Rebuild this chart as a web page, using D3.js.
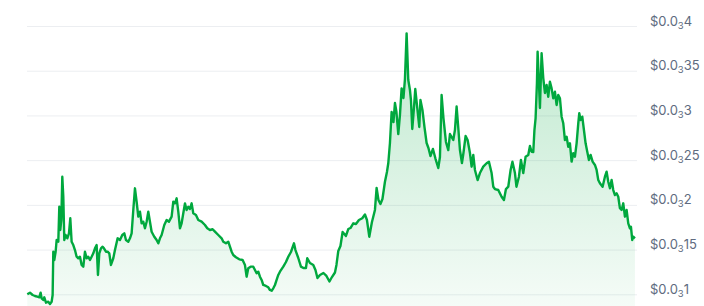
<html>
<head>
<meta charset="utf-8">
<script src="https://d3js.org/d3.v7.min.js"></script>
<style>
  body { margin: 0; background: #fff; }
  .grid line { stroke: #eceef1; }
  .grid .domain { stroke: none; }
  .yaxis .domain { stroke: none; }
  .yaxis text { fill: #606b80; font-family: Inter, "Noto Sans", sans-serif; font-size: 13px; }
</style>
</head>
<body>
<svg id="chart" width="704" height="306"></svg>
<script>
// days since start of the period
const days = [0,1.6,3.2,4.6,6.0,7.2,8.0,8.6,9.6,10.2,11.2,12.6,13.6,14.6,15.2,15.6,16.2,17.0,17.6,18.6,
  19.2,19.8,20.4,21.0,21.6,22.2,23.0,24.0,25.0,25.8,26.6,27.6,28.6,29.6,30.6,31.6,32.6,33.6,34.6,35.6,
  36.6,37.6,38.6,39.6,40.6,41.6,42.4,43.2,44.2,45.2,46.0,47.2,48.2,49.2,50.2,51.6,52.6,54.2,55.6,57.0,
  58.2,59.2,60.6,61.6,62.6,63.6,64.6,65.6,66.6,67.6,68.6,69.6,70.6,71.6,72.6,73.6,74.6,76.2,77.6,78.6,
  79.6,80.6,82.2,83.6,85.0,86.6,87.6,88.6,89.6,90.6,91.6,92.6,93.6,94.6,95.6,96.6,97.6,98.6,99.6,101.2,
  102.6,104.6,106.6,108.0,109.6,111.2,112.6,114.6,116.6,117.6,119.2,120.6,121.6,122.6,123.6,125.2,127.2,129.2,130.6,131.6,
  132.6,134.0,135.6,136.6,137.6,138.6,139.6,140.6,141.6,143.2,144.6,145.6,146.6,147.6,148.6,149.6,150.6,151.6,153.6,155.2,
  156.6,158.2,160.0,160.9,162.6,164.2,165.7,167.2,168.0,169.6,171.6,172.9,174.1,175.6,177.7,179.5,181.3,182.8,184.6,185.5,
  186.6,187.9,189.2,191.2,192.6,193.9,195.6,197.2,199.0,201.0,202.6,203.8,205.2,206.8,208.6,209.6,210.7,211.9,213.1,214.6,
  215.8,216.6,217.6,218.6,219.7,220.6,221.5,222.6,223.6,224.6,225.7,226.6,227.6,228.6,229.6,230.2,231.0,232.0,232.8,233.8,
  235.2,235.9,237.1,238.3,239.6,240.7,241.9,243.4,244.9,246.6,247.6,248.6,249.7,251.2,252.6,253.6,255.6,256.6,257.6,258.7,
  259.6,260.8,261.7,263.0,264.2,265.6,266.6,267.6,268.6,270.2,271.6,273.6,275.6,277.0,278.6,279.6,280.6,282.6,284.6,286.0,
  287.2,288.6,290.0,291.1,292.6,293.5,295.0,296.2,297.6,299.0,300.6,301.6,302.6,303.6,304.3,305.0,305.8,306.2,307.0,307.6,
  308.6,309.6,310.6,311.6,312.6,313.6,314.6,315.6,316.6,317.6,318.6,319.6,320.6,321.6,322.6,323.6,324.6,325.6,326.6,327.6,
  328.6,329.6,330.6,331.2,332.0,333.0,334.0,335.0,336.0,337.0,338.0,339.2,340.6,341.6,342.6,343.6,345.2,346.6,347.6,348.6,
  349.6,350.6,351.6,352.6,353.6,354.6,355.6,356.6,357.6,358.6,359.6,360.6,361.6,362.2,363.0,363.6,364.6];

// price in USD
const prices = [0.0001000,0.0001018,0.0000992,0.0000981,0.0000973,0.0000966,0.0001018,0.0000955,0.0000936,0.0000966,
  0.0000906,0.0000917,0.0000892,0.0000917,0.0000992,0.0001476,0.0001384,0.0001476,0.0001607,0.0001588,
  0.0001979,0.0001719,0.0001831,0.0002315,0.0002091,0.0001607,0.0001663,0.0001626,0.0001682,0.0001850,
  0.0001588,0.0001551,0.0001495,0.0001420,0.0001403,0.0001420,0.0001328,0.0001309,0.0001476,0.0001403,
  0.0001420,0.0001384,0.0001420,0.0001458,0.0001514,0.0001551,0.0001216,0.0001458,0.0001514,0.0001532,
  0.0001514,0.0001476,0.0001476,0.0001458,0.0001328,0.0001403,0.0001495,0.0001626,0.0001607,0.0001663,
  0.0001682,0.0001607,0.0001588,0.0001626,0.0001682,0.0001943,0.0002185,0.0002035,0.0001868,0.0001924,
  0.0001794,0.0001812,0.0001738,0.0001812,0.0001924,0.0001812,0.0001700,0.0001644,0.0001607,0.0001570,
  0.0001626,0.0001663,0.0001775,0.0001831,0.0001812,0.0001868,0.0002035,0.0002017,0.0002073,0.0001924,
  0.0001738,0.0001794,0.0001906,0.0002017,0.0001943,0.0001979,0.0001954,0.0002017,0.0001906,0.0001887,
  0.0001831,0.0001812,0.0001775,0.0001738,0.0001719,0.0001727,0.0001700,0.0001663,0.0001626,0.0001588,
  0.0001570,0.0001588,0.0001532,0.0001476,0.0001439,0.0001414,0.0001391,0.0001384,0.0001328,0.0001197,
  0.0001291,0.0001309,0.0001309,0.0001272,0.0001235,0.0001253,0.0001197,0.0001160,0.0001104,0.0001093,
  0.0001078,0.0001048,0.0001040,0.0001067,0.0001104,0.0001160,0.0001216,0.0001253,0.0001309,0.0001361,
  0.0001420,0.0001473,0.0001570,0.0001495,0.0001406,0.0001309,0.0001294,0.0001294,0.0001403,0.0001350,
  0.0001328,0.0001272,0.0001182,0.0001216,0.0001238,0.0001205,0.0001143,0.0001193,0.0001244,0.0001328,
  0.0001484,0.0001540,0.0001697,0.0001652,0.0001730,0.0001741,0.0001794,0.0001786,0.0001831,0.0001850,
  0.0001892,0.0001831,0.0001644,0.0001808,0.0001943,0.0002189,0.0002054,0.0002010,0.0002066,0.0002259,
  0.0002367,0.0002465,0.0002692,0.0003038,0.0002926,0.0003139,0.0003038,0.0002792,0.0003005,0.0003303,
  0.0003195,0.0003407,0.0003918,0.0003396,0.0003284,0.0003172,0.0002848,0.0003083,0.0003295,0.0003117,
  0.0002871,0.0003172,0.0003061,0.0002871,0.0002692,0.0002636,0.0002546,0.0002625,0.0002518,0.0002412,
  0.0002535,0.0003228,0.0002971,0.0002703,0.0002613,0.0002792,0.0002725,0.0002837,0.0003100,0.0002837,
  0.0002613,0.0002468,0.0002580,0.0002770,0.0002725,0.0002580,0.0002427,0.0002558,0.0002390,0.0002278,
  0.0002356,0.0002427,0.0002465,0.0002483,0.0002356,0.0002203,0.0002177,0.0002166,0.0002091,0.0002054,
  0.0002177,0.0002203,0.0002390,0.0002483,0.0002356,0.0002203,0.0002315,0.0002502,0.0002356,0.0002539,
  0.0002558,0.0002658,0.0002594,0.0002591,0.0002837,0.0002971,0.0003363,0.0003713,0.0003363,0.0003083,
  0.0003695,0.0003418,0.0003251,0.0003340,0.0003209,0.0003377,0.0003303,0.0003191,0.0003265,0.0003117,
  0.0003228,0.0003191,0.0002986,0.0002912,0.0002725,0.0002762,0.0002650,0.0002688,0.0002483,0.0002577,
  0.0002539,0.0002688,0.0002912,0.0003024,0.0002949,0.0002986,0.0002837,0.0002688,0.0002594,0.0002502,
  0.0002558,0.0002483,0.0002446,0.0002390,0.0002278,0.0002241,0.0002203,0.0002315,0.0002371,0.0002259,
  0.0002185,0.0002278,0.0002166,0.0002110,0.0002129,0.0002091,0.0001962,0.0001943,0.0002017,0.0001868,
  0.0001943,0.0001794,0.0001738,0.0001756,0.0001607,0.0001644,0.0001626];

// y-axis ticks
const tickValues = [0.0001, 0.00015, 0.0002, 0.00025, 0.0003, 0.00035, 0.0004];

const data = days.map((d, i) => ({day: d, price: prices[i]}));

const svg = d3.select("svg#chart");
const width = +svg.attr("width");
const height = +svg.attr("height");
const plot = {left: 27, right: 636, top: 26, bottom: 294};
const lineColor = "#00a83e";

const x = d3.scaleLinear()
            .domain([0, 365])
            .range([plot.left + 0.3, plot.right - 0.4]);
const y = d3.scaleLinear()
            .domain([0.0001, 0.0004])
            .range([plot.bottom + 0.3, plot.top]);

// gridlines
svg.append("g")
   .attr("class", "grid")
   .attr("transform", `translate(${plot.right + 1}, 0)`)
   .call(d3.axisLeft(y).tickValues(tickValues).tickSize(plot.right + 1 - plot.left).tickFormat(""));

// gradient under the line
const defs = svg.append("defs");
const grad = defs.append("linearGradient")
                 .attr("id", "areaFill")
                 .attr("gradientUnits", "userSpaceOnUse")
                 .attr("x1", 0).attr("x2", 0)
                 .attr("y1", y(0.0004)).attr("y2", height);
grad.append("stop").attr("offset", "0%").attr("stop-color", lineColor).attr("stop-opacity", 0.26);
grad.append("stop").attr("offset", "100%").attr("stop-color", lineColor).attr("stop-opacity", 0.04);

const area = d3.area()
               .x(d => x(d.day))
               .y0(height)
               .y1(d => y(d.price));
svg.append("path")
   .datum(data)
   .attr("d", area)
   .attr("fill", "url(#areaFill)");

const line = d3.line()
               .x(d => x(d.day))
               .y(d => y(d.price));
svg.append("path")
   .datum(data)
   .attr("d", line)
   .attr("fill", "none")
   .attr("stroke", lineColor)
   .attr("stroke-width", 2.4)
   .attr("stroke-linejoin", "round");

// right axis with subscript-zero labels, e.g. $0.0₃35
function zeroParts(v) {
    const s = v.toFixed(10).replace(/0+$/, "");
    const dec = s.split(".")[1];
    const zeros = dec.match(/^0*/)[0].length;
    return {zeros: zeros, digits: dec.slice(zeros)};
}

const yAxis = svg.append("g")
   .attr("class", "yaxis")
   .attr("transform", `translate(${plot.right}, 0)`)
   .call(d3.axisRight(y).tickValues(tickValues).tickSize(0).tickPadding(14).tickFormat(""));

yAxis.selectAll(".tick text")
     .attr("dy", 0)
     .attr("y", -1)
     .each(function(d) {
         const p = zeroParts(d);
         const t = d3.select(this);
         t.append("tspan").text("$0.0");
         t.append("tspan").text(p.zeros).attr("font-size", "9.5px").attr("dy", 3);
         t.append("tspan").text(p.digits).attr("dy", -3);
     });
</script>
</body>
</html>
